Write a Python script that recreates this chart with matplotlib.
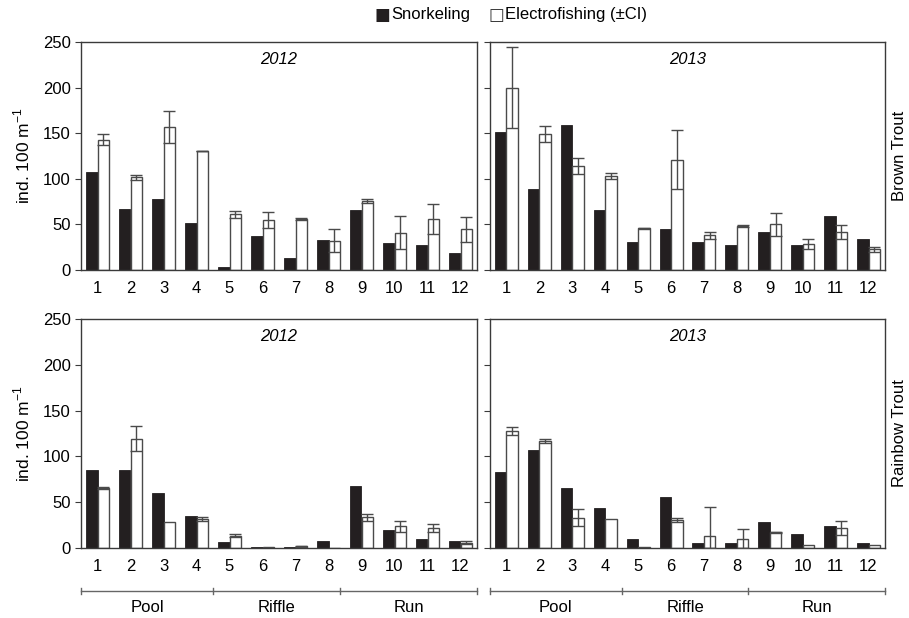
import matplotlib
matplotlib.use("Agg")
import matplotlib.pyplot as plt
import numpy as np
from matplotlib.lines import Line2D
import matplotlib.transforms as mtransforms

plt.rcParams['font.family'] = ['Liberation Sans', 'DejaVu Sans']
plt.rcParams['mathtext.fontset'] = 'custom'
plt.rcParams['mathtext.rm'] = 'Liberation Sans'

sites = [str(i) for i in range(1, 13)]
habitats = ["Pool", "Riffle", "Run"]

# Brown trout
bt12_snork = [108, 67, 78, 51, 3, 37, 13.5, 33, 66, 30, 27, 19]
bt12_elec = [143, 101.5, 156.5, 130.5, 61, 55, 56, 32, 76, 41, 56, 44.5]
bt12_ci = [6, 3, 17.5, 0.5, 3.5, 9, 1.5, 12.5, 2, 18, 16.5, 13.5]
bt13_snork = [151, 89, 159, 65.5, 30.5, 45.5, 31, 27, 42, 27.5, 59.5, 34.5]
bt13_elec = [200, 149, 114, 103, 46, 121, 38, 48, 50, 28.5, 42, 22.5]
bt13_ci = [44.5, 9, 8.5, 3.5, 0.5, 32, 3.5, 1, 13, 5, 7.5, 2.5]
# Rainbow trout
rt12_snork = [85, 85.5, 60, 35, 6.5, 1.5, 1, 8, 67.5, 20, 10, 8]
rt12_elec = [65.5, 119.5, 28, 31.5, 13.5, 1.5, 2, 0.3, 33.5, 23.5, 21.5, 6]
rt12_ci = [1, 14, 0, 2, 1.5, 0, 0.5, 0, 3.5, 6, 4.5, 1.5]
rt13_snork = [82.5, 107.5, 66, 43.5, 10, 55.5, 6, 5, 28, 15.5, 24, 5]
rt13_elec = [127.5, 117, 33, 32, 1.5, 30.5, 13, 10, 17, 3.5, 21.5, 3.5]
rt13_ci = [4.5, 2.5, 9.5, 0, 0, 2, 31.5, 11, 0.5, 0, 7.5, 0]

panels = [
    (bt12_snork, bt12_elec, bt12_ci, "2012"),
    (bt13_snork, bt13_elec, bt13_ci, "2013"),
    (rt12_snork, rt12_elec, rt12_ci, "2012"),
    (rt13_snork, rt13_elec, rt13_ci, "2013"),
]

W, H = 909, 618
fig = plt.figure(figsize=(W / 100, H / 100), dpi=100)

def fr(x0, y0, x1, y1):
    return [x0 / W, 1 - y1 / H, (x1 - x0) / W, (y1 - y0) / H]

rects = [fr(81, 42, 477, 270), fr(490, 42, 885, 270),
         fr(81, 319, 477, 548), fr(490, 319, 885, 548)]

FS = 12
edge = '#3a3a3a'
axes = []
for k, (sn, el, ci, yr) in enumerate(panels):
    ax = fig.add_axes(rects[k])
    axes.append(ax)
    x = np.arange(1, 13)
    w = 0.35
    sn = np.array(sn, float)
    el = np.array(el, float)
    ci = np.array(ci, float)
    ax.bar(x - w / 2, sn, width=w, color='#231f20', edgecolor='#231f20', linewidth=0.6, zorder=2)
    ax.bar(x + w / 2, el, width=w, color='white', edgecolor='#4a4a4a', linewidth=1.0, zorder=2)
    lower = np.minimum(ci, el)
    mask = ci > 0
    ax.errorbar((x + w / 2)[mask], el[mask], yerr=[lower[mask], ci[mask]], fmt='none',
                ecolor='#4a4a4a', elinewidth=1.0, capsize=4, capthick=1.0, zorder=3)
    ax.set_xlim(0.5, 12.5)
    ax.set_ylim(0, 250)
    ax.set_yticks(range(0, 251, 50))
    ax.set_xticks(x)
    ax.set_xticklabels(sites, fontsize=FS)
    ax.tick_params(axis='x', length=0, pad=8)
    ax.tick_params(axis='y', length=4, width=0.8, color=edge, labelsize=FS, direction='out')
    if k % 2 == 1:
        ax.set_yticklabels([])
    for s in ax.spines.values():
        s.set_color(edge)
        s.set_linewidth(1.0)
    ax.text(0.5, 0.925, yr, transform=ax.transAxes, ha='center', va='center',
            fontsize=FS, style='italic')

# y labels
for yc in [(42 + 270) / 2, (319 + 548) / 2]:
    fig.text(22 / W, 1 - yc / H, "ind. 100 m$^{-1}$", rotation=90, ha='center', va='center',
             fontsize=12.5)

# right labels
fig.text(899 / W, 1 - 156 / H, "Brown Trout", rotation=90, ha='center', va='center', fontsize=FS)
fig.text(899 / W, 1 - 433 / H, "Rainbow Trout", rotation=90, ha='center', va='center', fontsize=FS)

# habitat brackets
bounds = [0.5, 4.5, 8.35, 12.5]
for ax in axes[2:]:
    tr = mtransforms.blended_transform_factory(ax.transData, ax.transAxes)
    yb = (548 - 591) / 229
    yl = (548 - 607) / 229
    ax.add_line(Line2D([bounds[0], bounds[-1]], [yb, yb], transform=tr, color='#666666',
                       lw=1.0, clip_on=False))
    for b in bounds:
        ax.add_line(Line2D([b, b], [yb - 0.013, yb + 0.013], transform=tr, color='#666666',
                           lw=1.0, clip_on=False))
    for i, hname in enumerate(habitats):
        ax.text((bounds[i] + bounds[i + 1]) / 2, yl, hname, transform=tr, ha='center',
                va='center', fontsize=FS)

# legend
fig.text(382 / W, 1 - 15 / H, "\u25A0", ha='center', va='center', fontsize=12, color='#231f20',
         family=['DejaVu Sans'])
fig.text(391 / W, 1 - 15 / H, "Snorkeling", ha='left', va='center', fontsize=FS)
fig.text(496 / W, 1 - 15 / H, "\u25A1", ha='center', va='center', fontsize=12, color='#333333',
         family=['DejaVu Sans'])
fig.text(505 / W, 1 - 15 / H, "Electrofishing (\u00B1CI)", ha='left', va='center', fontsize=FS)

fig.savefig("out.png", dpi=100)
